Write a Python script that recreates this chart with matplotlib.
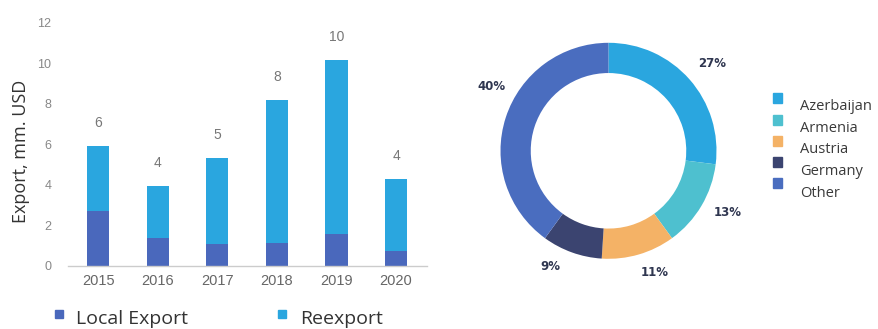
import math
import matplotlib
matplotlib.use("Agg")
import matplotlib.pyplot as plt
from matplotlib.patches import Rectangle

# ---- data ----
years = ["2015", "2016", "2017", "2018", "2019", "2020"]
local_export = [2.69, 1.37, 1.07, 1.10, 1.57, 0.71]
reexport = [3.21, 2.56, 4.23, 7.10, 8.61, 3.58]
bar_series = ["Local Export", "Reexport"]

countries = ["Azerbaijan", "Armenia", "Austria", "Germany", "Other"]
shares = [27, 13, 11, 9, 40]

# ---- styling ----
C_LOCAL = "#4A68BC"
C_REEXP = "#2AA6DF"
country_colors = ["#2AA6DF", "#4EC0CF", "#F4B266", "#3B4470", "#4A6DBF"]
PCT_COLOR = "#2F3650"
# angular nudge (degrees) and radial distance for each percentage label
pct_nudge = [-1.2, 3.1, 4.7, -7.1, -10.7]
pct_dist = [1.255, 1.247, 1.206, 1.198, 1.24]

W, H = 879, 329
fig = plt.figure(figsize=(W / 100, H / 100), dpi=100)


def px_box(left, top, right, bottom):
    return [left / W, 1 - bottom / H, (right - left) / W, (bottom - top) / H]


# ---- stacked bar chart ----
ax = fig.add_axes(px_box(68, 22.7, 427, 265.5))
x = list(range(len(years)))
ax.bar(x, local_export, width=0.37, color=C_LOCAL, zorder=2)
ax.bar(x, reexport, width=0.37, bottom=local_export, color=C_REEXP, zorder=2)

totals = [a + b for a, b in zip(local_export, reexport)]
for xi, t in zip(x, totals):
    ax.annotate(f"{round(t):d}", (xi, t), xytext=(0, 16.5), textcoords="offset points",
                ha="center", va="center", fontsize=10, color="#777777",
                family="Liberation Sans")

ax.set_xlim(-0.51, 5.52)
ax.set_ylim(0, 12)
ax.set_yticks(range(0, 13, 2))
ax.set_xticks(x)
ax.set_xticklabels(years)
for s in ("top", "right", "left"):
    ax.spines[s].set_visible(False)
ax.spines["bottom"].set_color("#CCCCCC")
ax.spines["bottom"].set_linewidth(1.0)
ax.tick_params(axis="both", length=0)
ax.tick_params(axis="x", pad=6, labelsize=10.5, labelcolor="#666666")
ax.tick_params(axis="y", pad=12, labelsize=9, labelcolor="#888888")
for lab in ax.get_xticklabels() + ax.get_yticklabels():
    lab.set_family("Liberation Sans")
ax.set_ylabel("Export, mm. USD", family="Open Sans", fontsize=13, color="#333333")
ax.yaxis.set_label_coords(-0.106, 0.472)

# legend under the bars
for (sx, tx, name, col) in [(55, 76, bar_series[0], C_LOCAL), (278, 300, bar_series[1], C_REEXP)]:
    fig.patches.append(Rectangle((sx / W, 1 - 317.5 / H), 8.5 / W, 8 / H,
                                 transform=fig.transFigure, color=col, figure=fig))
    fig.text(tx / W, 1 - 324 / H, name, family="Open Sans", fontsize=14,
             color="#333333", va="baseline", ha="left")

# ---- donut chart ----
cx, cy, R = 608.5, 150.8, 108
half = 1.3 * R
pax = fig.add_axes(px_box(cx - half, cy - half, cx + half, cy + half))
wedges, _ = pax.pie(shares, colors=country_colors, startangle=90, counterclock=False,
                    radius=1.0, wedgeprops=dict(width=0.28, linewidth=0))
total = sum(shares)
for w, v, nudge, dist in zip(wedges, shares, pct_nudge, pct_dist):
    mid = math.radians((w.theta1 + w.theta2) / 2 + nudge)
    pax.text(dist * math.cos(mid), dist * math.sin(mid), f"{100 * v / total:.0f}%",
             ha="center", va="center", fontsize=8.5, fontweight="bold",
             color=PCT_COLOR, family="DejaVu Sans")
pax.set_xlim(-1.3, 1.3)
pax.set_ylim(-1.3, 1.3)
pax.set_aspect("equal")
pax.axis("off")

# country legend
for i, (name, col) in enumerate(zip(countries, country_colors)):
    sq_c = 98.3 + 21.2 * i
    txt_c = 106.7 + 21.6 * i
    fig.patches.append(Rectangle((773 / W, 1 - (sq_c + 5) / H), 9.5 / W, 10 / H,
                                 transform=fig.transFigure, color=col, figure=fig))
    fig.text(800 / W, 1 - txt_c / H, name, family="Open Sans", fontsize=10.5,
             color="#3A3A3A", va="center", ha="left")

fig.savefig("out.png", dpi=100)
